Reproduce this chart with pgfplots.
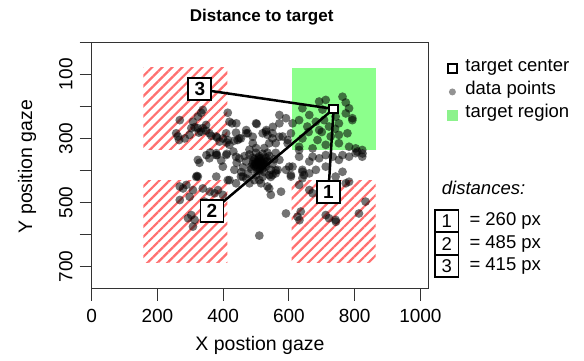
\documentclass[border=0pt]{standalone}
\usepackage{pgfplots}
\pgfplotsset{compat=1.18}
\usepackage{fontspec}
\setmainfont{Liberation Sans}
\usetikzlibrary{patterns.meta}
\definecolor{hatchred}{RGB}{255,112,112}
\definecolor{legreen}{RGB}{140,242,140}
\newcommand{\fs}{\fontsize{18.5}{20}\selectfont}
\begin{document}
\begin{tikzpicture}
\useasboundingbox (-91.7pt,-71.5pt) rectangle (492.3pt,288.5pt);
\begin{axis}[
  at={(0pt,0pt)}, anchor=south west,
  scale only axis, width=336.6pt, height=246.3pt,
  xmin=0, xmax=1024, ymin=0, ymax=768, y dir=reverse,
  axis line style={black!80, line width=0.9pt},
  xtick={0,200,...,1000}, xticklabels={0,200,400,600,800,1000},
  ytick={0,100,...,700}, yticklabels={,100,,300,,500,,700},
  tick align=outside, major tick length=12pt,
  tick style={black!80, line width=0.9pt},
  xtick pos=left, ytick pos=left,
  xticklabel style={font=\fontsize{19}{22}\selectfont, inner sep=0pt, anchor=north, yshift=-8.7pt},
  yticklabel style={font=\fontsize{19}{22}\selectfont, inner sep=0pt, anchor=south, xshift=-7pt, rotate=90},
  legend style={at={(1,1)}, anchor=north west, xshift=18.4pt, yshift=-21pt, draw=none, fill=none,
    inner sep=0pt, row sep=12.5pt, column sep=7pt, font=\fs,
    nodes={inner sep=0.5pt, text height=0.75em, text depth=0.22em}},
  legend cell align=left,
]
\addlegendimage{only marks, mark=square*, mark size=4.5pt, mark options={fill=white, draw=black, line width=1.8pt}}
\addlegendentry{target center}
\addlegendimage{only marks, mark=*, mark size=3.5pt, mark options={fill=gray!85, draw opacity=0}}
\addlegendentry{data points}
\addlegendimage{only marks, mark=square*, mark size=5.5pt, mark options={fill=legreen, draw opacity=0}}
\addlegendentry{target region}

% hatched distractor regions
\addplot[draw=none, pattern={Lines[angle=45, distance=7.1pt, line width=2.2pt]}, pattern color=hatchred, forget plot]
  coordinates {(157,80) (413,80) (413,336) (157,336)} -- cycle;
\addplot[draw=none, pattern={Lines[angle=45, distance=7.1pt, line width=2.2pt]}, pattern color=hatchred, forget plot]
  coordinates {(157,432) (413,432) (413,688) (157,688)} -- cycle;
\addplot[draw=none, pattern={Lines[angle=45, distance=7.1pt, line width=2.2pt]}, pattern color=hatchred, forget plot]
  coordinates {(608,432) (864,432) (864,688) (608,688)} -- cycle;

% data points
\addplot[only marks, mark=*, mark size=4.4pt, mark options={fill=black, fill opacity=0.55, draw opacity=0}, forget plot]
coordinates {
(333,220) (338,211) (323,232) (268,243) (308,248) (303,268) (323,268) (313,265) (348,258) (338,268)
(348,276) (333,279) (326,282) (358,284) (257,284) (262,294) (283,300) (266,305) (298,289) (364,292)
(379,294) (381,297) (399,300) (414,220) (419,248) (427,253) (409,284) (439,282) (470,284) (502,255)
(411,313) (434,307) (449,300) (389,310) (419,320) (444,305)
(360,344) (381,352) (394,369) (328,376) (411,348) (431,341) (449,362) (441,376) (323,367) (358,362)
(379,352) (320,417) (349,352) (379,346) (409,352) (439,357) (399,388) (434,398) (379,419) (419,430)
(454,419) (414,305) (454,300) (490,315) (535,289) (560,315) (596,315) (631,336) (480,440) (510,430)
(475,284) (500,253) (530,279) (550,300) (440,253) (470,274) (490,295) (531,274) (551,264) (571,295)
(480,350) (500,345) (520,348) (540,355) (495,365) (515,362) (535,370) (470,372) (490,380) (510,385)
(530,388) (550,380) (485,395) (505,400) (525,405) (545,398) (500,415) (520,420) (475,410) (460,390)
(555,365) (500,330) (525,330) (510,355) (512,372) (498,378) (522,378) (508,392) (490,360) (530,360)
(465,355) (545,420) (515,440) (495,430) (560,400) (470,425) (455,405) (535,345) (480,335) (560,345)
(505,370) (515,380) (500,390) (520,395) (510,365) (495,385) (525,370) (510,400)
(505,375) (515,372) (500,382) (520,385) (508,360) (492,372) (528,382) (512,395) (485,388) (532,372)
(571,367) (601,388) (566,398) (540,414) (535,450) (576,466) (606,419) (641,398) (631,445) (631,357)
(662,372) (692,362) (712,388) (752,367) (783,357) (803,346) (611,388) (641,404) (682,398) (591,398)
(560,409) (641,424) (763,404) (823,357) (672,357) (712,352) (733,357) (763,352) (824,347) (803,331)
(712,180) (692,185) (773,188) (763,170) (641,206) (662,227) (631,243) (682,248) (707,243) (656,263)
(692,274) (722,263) (752,253) (793,243) (778,284) (752,289) (727,294) (687,305) (641,300) (631,326)
(672,331) (712,320) (752,315) (783,326) (808,341) (823,336) (611,253) (606,284) (596,305) (783,206)
(742,232) (773,222) (571,253) (550,284) (520,284) (581,294) (540,315) (591,237) (571,227) (793,237)
(702,210) (660,280) (700,280) (740,270)
(550,414) (606,414) (646,414) (662,409) (540,456) (545,476) (662,461) (672,471) (742,419) (783,435)
(773,440) (636,528) (626,544) (591,534) (712,539) (742,554) (722,549) (833,497) (813,534) (632,555)
(743,560)
(323,419) (288,445) (278,456) (308,461) (338,456) (359,466) (384,461) (268,492) (298,482) (343,497)
(374,471) (399,476) (303,539) (313,554) (293,549) (308,575) (414,430) (439,440) (460,419) (268,450)
(318,420)
(510,603)
};

% target region
\addplot[draw=none, fill=green, fill opacity=0.45, forget plot]
  coordinates {(608,80) (864,80) (864,336) (608,336)} -- cycle;

% distance lines
\addplot[black, line width=2.5pt, forget plot] coordinates {(736,208) (329,147)};
\addplot[black, line width=2.5pt, forget plot] coordinates {(736,208) (720,468)};
\addplot[black, line width=2.5pt, forget plot] coordinates {(736,208) (366,527)};

% target center
\addplot[only marks, mark=square*, mark size=4.3pt, mark options={fill=white, draw=black, line width=1.8pt}, forget plot]
  coordinates {(736,208)};

% labels
\addplot[draw=none, mark=none, forget plot, point meta=explicit symbolic, nodes near coords,
  nodes near coords style={anchor=center, draw=black, line width=1.8pt, fill=white,
    minimum width=23pt, minimum height=22pt, inner sep=0pt, font=\bfseries\fontsize{19}{20}\selectfont}]
  coordinates {(329,147) [3] (720,468) [1] (366,527) [2]};
\end{axis}

\node[font=\bfseries\fontsize{17}{20}\selectfont] at (170pt,271pt) {Distance to target};
\node[anchor=base, font=\fontsize{19.5}{22}\selectfont] at (168.3pt,-62pt) {X postion gaze};
\node[anchor=base, rotate=90, font=\fontsize{19.5}{22}\selectfont] at (-59.5pt,122pt) {Y position gaze};

\node[anchor=west, inner sep=0pt, font=\itshape\fs] at (350pt,100.2pt) {distances:};
\foreach \yy/\nn/\dd in {67.5/1/260, 44.7/2/485, 22.7/3/415} {
  \node[draw=black, line width=1.6pt, minimum width=23.3pt, minimum height=22.5pt, inner sep=0pt, font=\fs] at (355pt,\yy pt) {\nn};
  \node[anchor=west, inner sep=0pt, font=\fs] at (377.6pt,\yy pt) {= \dd\ px};
}
\end{tikzpicture}
\end{document}
